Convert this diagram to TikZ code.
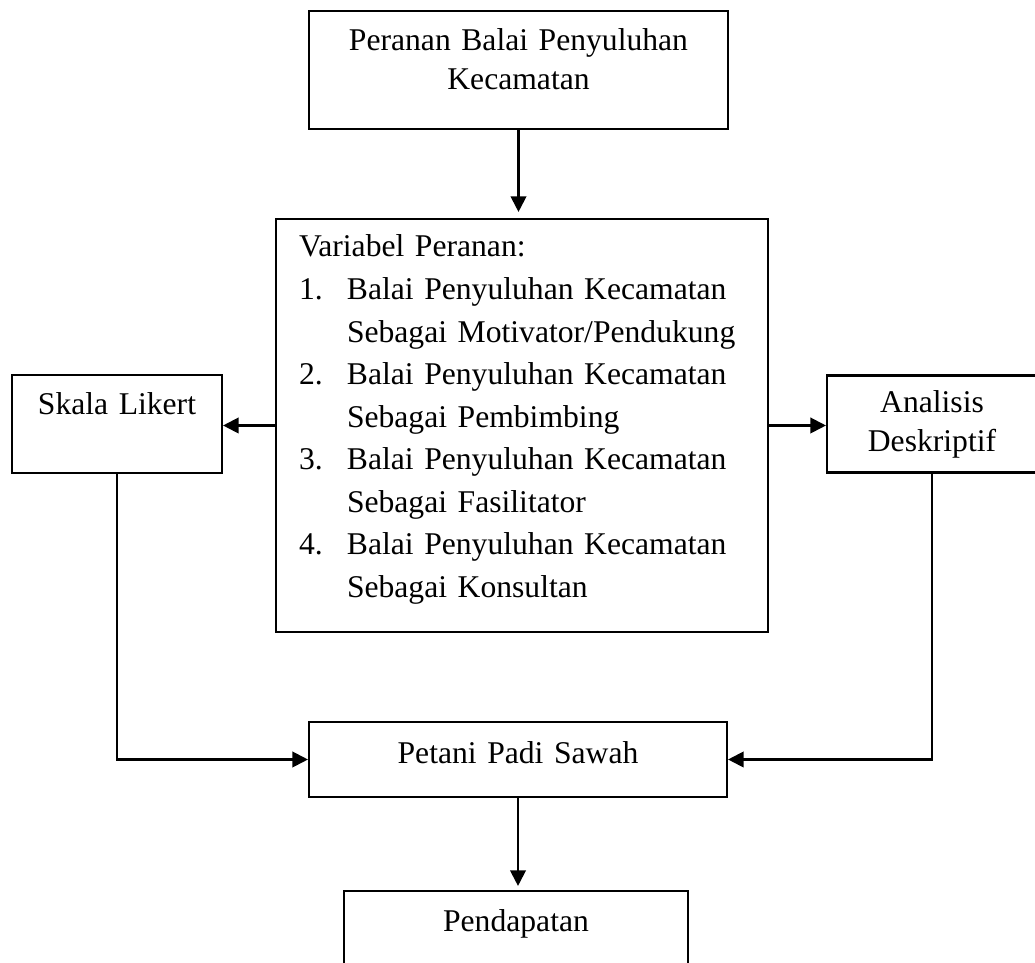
\documentclass[tikz,border=0pt]{standalone}
\usepackage{fontspec}
\setmainfont{Liberation Serif}
\usetikzlibrary{arrows.meta}

\tikzset{
  kotak/.style={draw, line width=1.2pt, inner sep=0pt, align=center, text height=0.8cm},
  panah/.style={->, line width=1.2pt}
}

\begin{document}
\begin{tikzpicture}[>={Triangle[length=3.1mm,width=3.1mm]}, font=\fontsize{18}{22}\selectfont]
    \clip (0,0) rectangle (20.7,19.26);

    % kotak
    \node[kotak, text width=8.38cm, text depth=1.56cm] (peranan) at (10.37,17.86)
        {Peranan Balai Penyuluhan\\Kecamatan};
    \node[kotak, align=left, inner xsep=0.46cm, text width=8.92cm, text height=0.76cm, text depth=7.5cm,
          font=\fontsize{18}{24.2}\selectfont] (variabel) at (10.44,10.75)
        {Variabel Peranan:\\
         \makebox[0.96cm][l]{1.}Balai Penyuluhan Kecamatan\\
         \hspace*{0.96cm}Sebagai Motivator/Pendukung\\
         \makebox[0.96cm][l]{2.}Balai Penyuluhan Kecamatan\\
         \hspace*{0.96cm}Sebagai Pembimbing\\
         \makebox[0.96cm][l]{3.}Balai Penyuluhan Kecamatan\\
         \hspace*{0.96cm}Sebagai Fasilitator\\
         \makebox[0.96cm][l]{4.}Balai Penyuluhan Kecamatan\\
         \hspace*{0.96cm}Sebagai Konsultan};
    \node[kotak, text width=4.2cm, text depth=1.16cm] (skala) at (2.34,10.78) {Skala Likert};
    \node[kotak, text width=4.2cm, text height=0.74cm, text depth=1.2cm] (analisis) at (18.64,10.78)
        {Analisis\\Deskriptif};
    \node[kotak, text width=8.36cm, text height=0.84cm, text depth=0.66cm] (petani) at (10.36,4.07)
        {Petani Padi Sawah};
    \node[kotak, text width=6.88cm, text height=0.82cm, text depth=0.68cm] (pendapatan) at (10.32,0.69)
        {Pendapatan};

    % panah
    \draw[panah, shorten >=0.12cm] (peranan.south) -- (peranan.south |- variabel.north);
    \draw[panah] (variabel.west) -- (variabel.west -| skala.east);
    \draw[panah] (variabel.east) -- (variabel.east -| analisis.west);
    \draw[panah] (skala.south) |- (petani.west);
    \draw[panah] (analisis.south) |- (petani.east);
    \draw[panah, shorten >=0.08cm] (petani.south) -- (petani.south |- pendapatan.north);
\end{tikzpicture}
\end{document}
